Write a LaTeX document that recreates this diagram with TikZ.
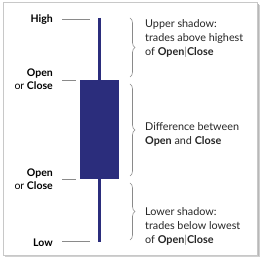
\documentclass[tikz,border=0pt]{standalone}
\usepackage{fontspec}
\setmainfont{Lato}
\usetikzlibrary{decorations.pathreplacing,calc}
\definecolor{candle}{HTML}{2B2D7C}
\definecolor{guide}{HTML}{8A8A8A}
\definecolor{framegray}{HTML}{C8C8C8}
\begin{document}
\begin{tikzpicture}[x=1pt,y=-1pt,
  lbl/.style={anchor=east,align=right,font=\fontsize{10.5}{13}\selectfont,inner sep=0pt},
  desc/.style={anchor=west,align=left,font=\fontsize{10.8}{14}\selectfont,inner sep=0pt,text=black!85},
  guideline/.style={draw=guide,line width=0.8pt},
  bracestyle/.style={draw=guide,line width=0.6pt,decorate,decoration={brace,amplitude=5pt}},
  bar/.style={color=guide}]
\useasboundingbox (0,0) rectangle (263,262);
% frame with shadow
\fill[black!18] (5,5) rectangle (259.5,257.5);
\fill[black!28] (4,4) rectangle (258.5,256.5);
\fill[white,draw=framegray,line width=0.8pt] (3,2.5) rectangle (257,255);
% wick and body
\coordinate (high) at (99,18);
\coordinate (low) at (99,242);
\draw[candle,line width=3pt] (high) -- (low);
\node[fill=candle,inner sep=0pt,minimum width=39pt,minimum height=99pt] (body) at (99.5,129.5) {};
% left labels
\node[lbl] (hi) at (53,20) {\textbf{High}};
\node[lbl] (oc1) at (53,79) {\textbf{Open}\\or \textbf{Close}};
\node[lbl] (oc2) at (53,179) {\textbf{Open}\\or \textbf{Close}};
\node[lbl] (lo) at (53,243) {\textbf{Low}};
\coordinate (hiend) at (90,19);
\coordinate (oc1end) at (76,80);
\coordinate (oc2end) at (76,179);
\coordinate (loend) at (90,241);
\draw[guideline] (62,19) -- (hiend);
\draw[guideline] (62,80) -- (oc1end);
\draw[guideline] (62,179) -- (oc2end);
\draw[guideline] (62,241) -- (loend);
% braces
\coordinate (b1a) at (130,18); \coordinate (b1b) at (130,77);
\coordinate (b2a) at (130,84); \coordinate (b2b) at (130,176);
\coordinate (b3a) at (130,183); \coordinate (b3b) at (130,240);
\draw[bracestyle] (b1a) -- (b1b);
\draw[bracestyle] (b2a) -- (b2b);
\draw[bracestyle] (b3a) -- (b3b);
% descriptions
\node[desc] (d1) at (145,38) {Upper shadow:\\trades above highest\\of \textbf{Open}{\color{guide}|}\textbf{Close}};
\node[desc] (d2) at (145,134) {Difference between\\\textbf{Open} and \textbf{Close}};
\node[desc] (d3) at (145,226) {Lower shadow:\\trades below lowest\\of \textbf{Open}{\color{guide}|}\textbf{Close}};
\end{tikzpicture}
\end{document}
